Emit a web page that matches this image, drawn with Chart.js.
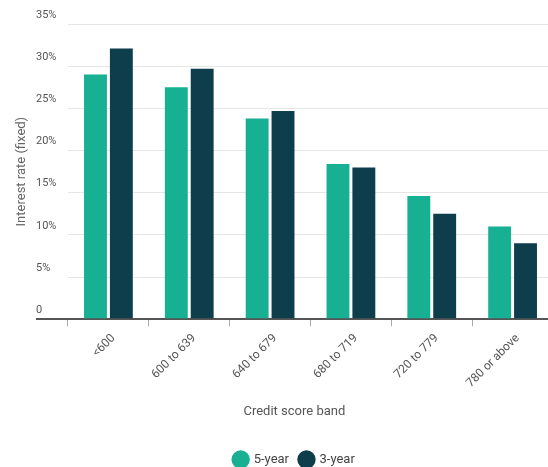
<!DOCTYPE html>
<html>
<head>
<meta charset="utf-8">
<script src="https://cdn.jsdelivr.net/npm/chart.js@4.4.1/dist/chart.umd.min.js"></script>
<style>
  html, body { margin: 0; padding: 0; background: #fff; overflow: hidden; }
  .chart-container { position: relative; width: 553px; height: 467px; }
</style>
</head>
<body>
<div class="chart-container">
  <canvas id="rateChart"></canvas>
</div>
<script>
const bands = ['<600', '600 to 639', '640 to 679', '680 to 719', '720 to 779', '780 or above'];
const fiveYear = [29.0, 27.5, 23.8, 18.4, 14.6, 11.0];
const threeYear = [32.1, 29.7, 24.7, 18.0, 12.5, 9.0];
const seriesNames = ['5-year', '3-year'];

const gray = '#666';

// the baseline runs on left under the "0" label
const zeroLine = (ctx) => ctx.tick && ctx.tick.value === 0;

const ctx = document.getElementById('rateChart').getContext('2d');

new Chart(ctx, {
  type: 'bar',
  data: {
    labels: bands,
    datasets: [
      {
        label: seriesNames[0],
        data: fiveYear,
        backgroundColor: '#17b093',
        categoryPercentage: 0.64,
        barPercentage: 0.885
      },
      {
        label: seriesNames[1],
        data: threeYear,
        backgroundColor: '#0e3d4c',
        categoryPercentage: 0.64,
        barPercentage: 0.885
      }
    ]
  },
  options: {
    responsive: true,
    maintainAspectRatio: false,
    animation: false,
    layout: {
      padding: { left: 36, top: 24, right: 0, bottom: -9 }
    },
    plugins: {
      tooltip: { enabled: false },
      legend: {
        position: 'bottom',
        labels: {
          usePointStyle: true,
          pointStyle: 'circle',
          boxWidth: 14,
          boxHeight: 14,
          padding: 11,
          color: '#444',
          font: { family: 'Roboto', size: 13 }
        }
      }
    },
    scales: {
      x: {
        grid: {
          offset: true,
          drawOnChartArea: false,
          tickLength: 7,
          tickColor: '#aaa'
        },
        border: { color: '#555', width: 2 },
        ticks: {
          minRotation: 45,
          maxRotation: 45,
          labelOffset: 5,
          padding: 5,
          color: '#555',
          font: { family: 'Roboto', size: 12 }
        },
        title: {
          display: true,
          // trailing spaces pull the title left, like the source
          text: 'Credit score band          ',
          color: '#555',
          font: { family: 'Roboto', size: 13 },
          padding: { top: 9, bottom: 22 }
        }
      },
      y: {
        min: 0,
        max: 35,
        afterFit: (scale) => { scale.width = 32; },
        border: { display: false },
        grid: {
          color: (c) => zeroLine(c) ? '#555' : '#e6e6e6',
          lineWidth: (c) => zeroLine(c) ? 2 : 1,
          tickColor: (c) => zeroLine(c) ? '#555' : 'rgba(0,0,0,0)',
          tickWidth: 2,
          tickLength: 32
        },
        ticks: {
          stepSize: 5,
          crossAlign: 'far',
          labelOffset: -9,
          color: '#555',
          font: { family: 'Roboto', size: 11 },
          callback: (v) => v === 0 ? '0' : v + '%'
        },
        title: {
          display: true,
          text: 'Interest rate (fixed)',
          color: gray,
          font: { family: 'Roboto', size: 13 },
          padding: { top: -22, bottom: 0 }
        }
      }
    }
  }
});
</script>
</body>
</html>
